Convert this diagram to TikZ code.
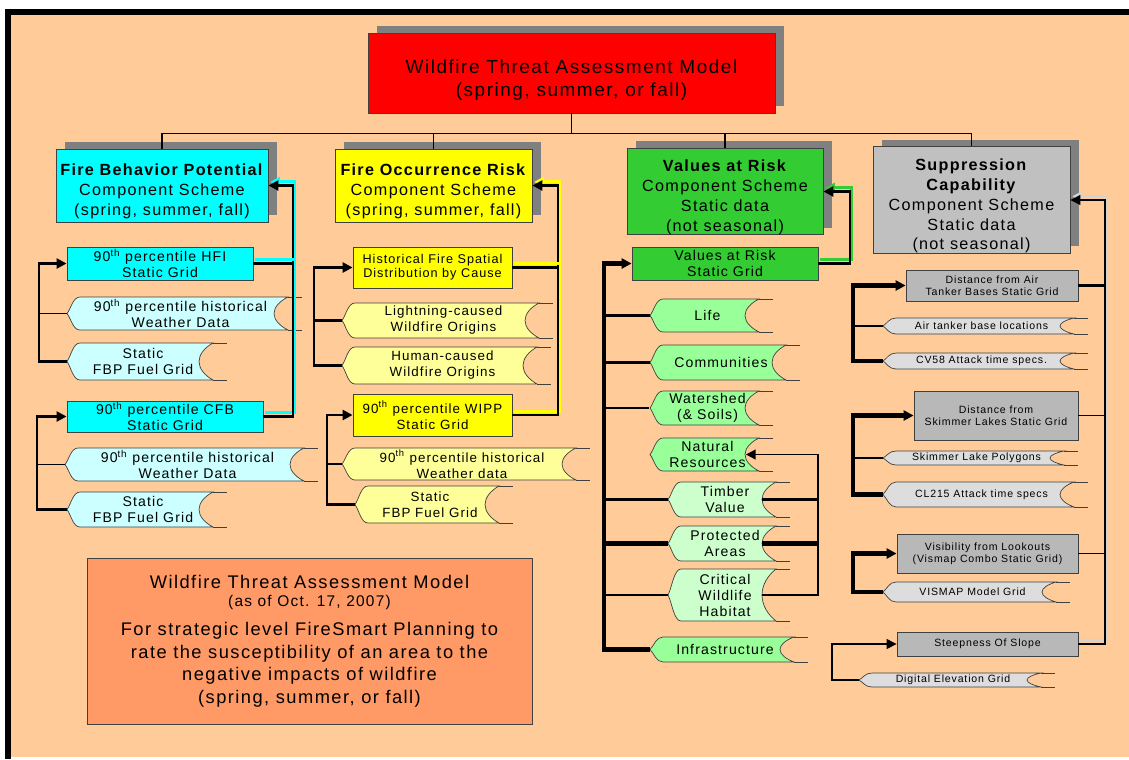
\documentclass[tikz,border=0pt]{standalone}
\usepackage{fontspec}
\setmainfont{Liberation Sans}[LetterSpace=8]
\usepackage{tikz}
\usetikzlibrary{arrows.meta}
\usetikzlibrary{shadows}
\usepackage{xcolor}
\definecolor{bgorange}{RGB}{255,204,153}
\definecolor{shadowgray}{RGB}{128,128,128}
\definecolor{titlered}{RGB}{255,0,0}
\definecolor{fbpcyan}{RGB}{0,255,255}
\definecolor{fbplight}{RGB}{204,255,255}
\definecolor{occyellow}{RGB}{255,255,0}
\definecolor{occlight}{RGB}{255,255,153}
\definecolor{vargreen}{RGB}{51,204,51}
\definecolor{varlight}{RGB}{153,255,153}
\definecolor{varpale}{RGB}{204,255,204}
\definecolor{suppsilver}{RGB}{192,192,192}
\definecolor{suppgrid}{RGB}{184,184,184}
\definecolor{supplight}{RGB}{221,221,221}
\definecolor{notesalmon}{RGB}{255,153,102}

\newcommand{\lift}{\rule{0pt}{1.45em}}

\tikzset{
	boxline/.style={draw=black!75,line width=0.6pt,inner sep=0pt,align=center},
	boxsize/.style 2 args={minimum width=(#1)*0.025cm,minimum height=(#2)*0.025cm},
	comp/.style={boxline,drop shadow={shadow xshift=6.4pt,shadow yshift=5pt,fill=shadowgray,opacity=1},font=\fontsize{11.5}{14.2}\selectfont},
	gridbox/.style={boxline},
	tapeline/.style={draw=black!75,line width=0.5pt},
	tapetext/.style={inner sep=0pt,align=center},
	atip/.style={xshift=-0.5cm},
	link/.style={line width=0.8pt},
	heavy/.style={line width=2pt},
	heavier/.style={line width=3.4pt},
	arrowin/.style={-{Triangle[length=7pt,width=7pt]}},
	glow/.style={preaction={draw=#1,line width=2pt,transform canvas={xshift=1.2pt,yshift=2.6pt}}},
}

% data tape: name, fill, left, top, right, bottom, text
\newcommand{\tape}[7]{%
	\filldraw[tapeline,fill=#2] ({#3+13},#4) -- ({#5-14},#4)
		.. controls ({#5-22},{#4+0.12*(#6-#4)}) and ({#5-28},{#4+0.3*(#6-#4)}) .. ({#5-28},{(#4+#6)/2})
		.. controls ({#5-28},{#4+0.7*(#6-#4)}) and ({#5-22},{#4+0.88*(#6-#4)}) .. ({#5-14},#6)
		-- ({#3+13},#6)
		.. controls ({#3+6},#6) and ({#3+4},{#4+0.65*(#6-#4)}) .. (#3,{(#4+#6)/2})
		.. controls ({#3+4},{#4+0.35*(#6-#4)}) and ({#3+6},#4) .. cycle;
	\draw[tapeline] ({#5-14},#4) -- (#5,#4) ({#5-14},#6) -- (#5,#6);
	\node(#1) at ({(#3+20+#5-28)/2},{(#4+#6)/2})[tapetext,boxsize={#5-48-#3}{#6-#4}]{#7};
}

\begin{document}
\begin{tikzpicture}[x=0.025cm,y=-0.025cm]
	\path[use as bounding box,fill=white] (0,0) rectangle (1129,759);
	\fill[bgorange] (11,15) rectangle (1129,757);
	\fill[black] (5,9) rectangle (1129,15);
	\fill[black] (5,9) rectangle (11,759);

	\node(title) at (571.5,73)[comp,fill=titlered,font=\fontsize{13.5}{16.4}\selectfont,boxsize={407}{80}]{\lift Wildfire Threat Assessment Model\\(spring, summer, or fall)};
	\node(fbp) at (162,185.5)[comp,fill=fbpcyan,boxsize={212}{73}]{\lift\textbf{Fire Behavior Potential}\\Component Scheme\\(spring, summer, fall)};
	\node(occ) at (433.5,185.5)[comp,fill=occyellow,boxsize={197}{73}]{\lift\textbf{Fire Occurrence Risk}\\Component Scheme\\(spring, summer, fall)};
	\node(var) at (725,191.5)[comp,fill=vargreen,boxsize={196}{85}]{\lift\textbf{Values at Risk}\\Component Scheme\\Static data\\(not seasonal)};
	\node(supp) at (971.5,200)[comp,fill=suppsilver,boxsize={197}{102}]{\lift\textbf{Suppression}\\\textbf{Capability}\\Component Scheme\\Static data\\(not seasonal)};

	\draw[link] (title.south) -- ++(0,20) -| (fbp.north);
	\draw[link] (title.south) -- ++(0,20) -| (occ.north);
	\draw[link] (title.south) -- ++(0,20) -| (var.north);
	\draw[link] (title.south) -- ++(0,20) -| (supp.north);

	\coordinate(fbpl) at (39,0);
	\coordinate(fbpl2) at (37,0);
	\coordinate(fbpbus) at (293,0);
	\coordinate(occl) at (314,0);
	\coordinate(occl2) at (327,0);
	\coordinate(occbus) at (558,0);
	\coordinate(varl) at (604,0);
	\coordinate(varr) at (818,0);
	\coordinate(varbus) at (850,0);
	\coordinate(suppl) at (853,0);
	\coordinate(suppl2) at (832,0);
	\coordinate(suppbus) at (1105,0);

	\begin{scope}[font=\fontsize{10}{11.4}\selectfont]
		\node(hfi) at (160,263.5)[gridbox,fill=fbpcyan,boxsize={186}{33}]{90\textsuperscript{th} percentile HFI\\Static Grid};
		\tape{wthr1}{fbplight}{67}{297}{302}{330}{90\textsuperscript{th} percentile historical\\Weather Data}
		\tape{fuel1}{fbplight}{67}{343}{227}{380}{Static\\FBP Fuel Grid}
		\node(cfb) at (165,416.5)[gridbox,fill=fbpcyan,boxsize={196}{31}]{90\textsuperscript{th} percentile CFB\\Static Grid};
		\tape{wthr2}{fbplight}{65}{448}{318}{481}{90\textsuperscript{th} percentile historical\\Weather Data}
		\tape{fuel2}{fbplight}{67}{492}{227}{527}{Static\\FBP Fuel Grid}
	\end{scope}

	\begin{scope}[font=\fontsize{9.5}{11.4}\selectfont]
		\node(hist) at (432.5,267.5)[gridbox,fill=occyellow,font=\fontsize{9}{9.8}\selectfont,boxsize={159}{41}]{Historical Fire Spatial\\Distribution by Cause};
		\tape{lightn}{occlight}{342}{303}{553}{338}{Lightning-caused\\Wildfire Origins}
		\tape{human}{occlight}{342}{347}{551}{384}{Human-caused\\Wildfire Origins}
		\node(wipp) at (432.5,415)[gridbox,fill=occyellow,boxsize={159}{42}]{90\textsuperscript{th} percentile WIPP\\Static Grid};
		\tape{wthr3}{occlight}{342}{448}{590}{480}{90\textsuperscript{th} percentile historical\\Weather data}
		\tape{fuel3}{occlight}{355}{486}{513}{523}{Static\\FBP Fuel Grid}
	\end{scope}

	\begin{scope}[font=\fontsize{10}{11.4}\selectfont]
		\node(vargrid) at (725,263.5)[gridbox,fill=vargreen,boxsize={186}{33}]{Values at Risk\\Static Grid};
		\tape{life}{varlight}{650}{299}{773}{332}{Life}
		\tape{comm}{varlight}{650}{345}{800}{380}{Communities}
		\tape{water}{varlight}{650}{391}{773}{425}{Watershed\\(\& Soils)}
		\tape{natres}{varlight}{650}{438}{773}{471}{Natural\\Resources}
		\tape{timber}{varpale}{668}{482}{790}{517}{Timber\\Value}
		\tape{prot}{varpale}{668}{526}{790}{561}{Protected\\Areas}
		\tape{crit}{varpale}{668}{569}{790}{621}{Critical\\Wildlife\\Habitat}
		\tape{infra}{varlight}{650}{637}{808}{662}{Infrastructure}
	\end{scope}

	\begin{scope}[font=\fontsize{7.5}{8.6}\selectfont]
		\node(airgrid) at (992,285.5)[gridbox,fill=suppgrid,boxsize={172}{31}]{Distance from Air\\Tanker Bases Static Grid};
		\tape{airbase}{supplight}{883}{318}{1088}{334}{Air tanker base locations}
		\tape{cv58}{supplight}{883}{353}{1088}{369}{CV58 Attack time specs.}
		\node(skimgrid) at (996,415.5)[gridbox,fill=suppgrid,boxsize={164}{49}]{Distance from\\Skimmer Lakes Static Grid};
		\tape{skimpoly}{supplight}{883}{451}{1078}{465}{Skimmer Lake Polygons}
		\tape{cl215}{supplight}{883}{482}{1088}{507}{CL215 Attack time specs}
		\node(visgrid) at (987.5,553.5)[gridbox,fill=suppgrid,boxsize={181}{39}]{Visibility from Lookouts\\(Vismap Combo Static Grid)};
		\tape{vismap}{supplight}{883}{582}{1070}{602}{VISMAP Model Grid}
		\node(steep) at (987.5,644)[gridbox,fill=suppgrid,boxsize={181}{24}]{Steepness Of Slope};
		\tape{dem}{supplight}{859}{673}{1055}{687}{Digital Elevation Grid}
	\end{scope}

	\draw[heavy,arrowin] ([atip]fuel1.west) -- (fuel1.west -| fbpl) |- (hfi.west);
	\draw[link] ([atip]wthr1.west) -- (wthr1.west -| fbpl);
	\draw[heavy,arrowin] ([atip]fuel2.west) -- (fuel2.west -| fbpl2) |- (cfb.west);
	\draw[link] ([atip]wthr2.west) -- (wthr2.west -| fbpl2);
	\draw[heavy,glow=fbpcyan,arrowin] (cfb.east) -- (cfb.east -| fbpbus) |- (fbp.east);
	\draw[heavy,glow=fbpcyan] (hfi.east) -- (hfi.east -| fbpbus);

	\draw[heavy,arrowin] ([atip]human.west) -- (human.west -| occl) |- (hist.west);
	\draw[heavy] ([atip]lightn.west) -- (lightn.west -| occl);
	\draw[heavy,arrowin] ([atip]fuel3.west) -- (fuel3.west -| occl2) |- (wipp.west);
	\draw[heavy] ([atip]wthr3.west) -- (wthr3.west -| occl2);
	\draw[heavy,glow=occyellow,arrowin] (wipp.east) -- (wipp.east -| occbus) |- (occ.east);
	\draw[heavy,glow=occyellow] (hist.east) -- (hist.east -| occbus);

	\draw[heavier,arrowin] ([atip]infra.west) -- (infra.west -| varl) |- (vargrid.west);
	\draw[heavy] ([atip]life.west) -- (life.west -| varl);
	\draw[heavy] ([atip]comm.west) -- (comm.west -| varl);
	\draw[link] ([atip]water.west) -- (water.west -| varl);
	\draw[heavy] ([atip]timber.west) -- (timber.west -| varl);
	\draw[heavier] ([atip]prot.west) -- (prot.west -| varl);
	\draw[link] ([atip]crit.west) -- (crit.west -| varl);
	\draw[line width=1.4pt,arrowin] (crit.east) -- (crit.east -| varr) |- (natres.east);
	\draw[heavy] (timber.east) -- (timber.east -| varr);
	\draw[heavier] (prot.east) -- (prot.east -| varr);
	\draw[heavy,glow=vargreen,arrowin] (vargrid.east) -- (vargrid.east -| varbus) |- (var.east);

	\draw[heavier,arrowin] ([atip]cv58.west) -- (cv58.west -| suppl) |- (airgrid.west);
	\draw[heavy] ([atip]airbase.west) -- (airbase.west -| suppl);
	\draw[heavier,arrowin] ([atip]cl215.west) -- (cl215.west -| suppl) |- (skimgrid.west);
	\draw[link] ([atip]skimpoly.west) -- (skimpoly.west -| suppl);
	\draw[heavier,arrowin] ([atip]vismap.west) -- (vismap.west -| suppl) |- (visgrid.west);
	\draw[link,arrowin] ([atip]dem.west) -- (dem.west -| suppl2) |- (steep.west);
	\draw[link,glow=suppsilver!70,arrowin] (steep.east) -- (steep.east -| suppbus) |- (supp.east);
	\draw[heavy] (airgrid.east) -- (airgrid.east -| suppbus);
	\draw[link] (skimgrid.east) -- (skimgrid.east -| suppbus);
	\draw[link] (visgrid.east) -- (visgrid.east -| suppbus);

	\node(note) at (309.5,641)[boxline,fill=notesalmon,font=\fontsize{13}{16}\selectfont,boxsize={445}{166}]{Wildfire Threat Assessment Model\\[-3.5pt]{\fontsize{11}{13}\selectfont(as of Oct. 17, 2007)}\\[5pt]For strategic level FireSmart Planning to\\rate the susceptibility of an area to the\\negative impacts of wildfire\\(spring, summer, or fall)};
\end{tikzpicture}
\end{document}
